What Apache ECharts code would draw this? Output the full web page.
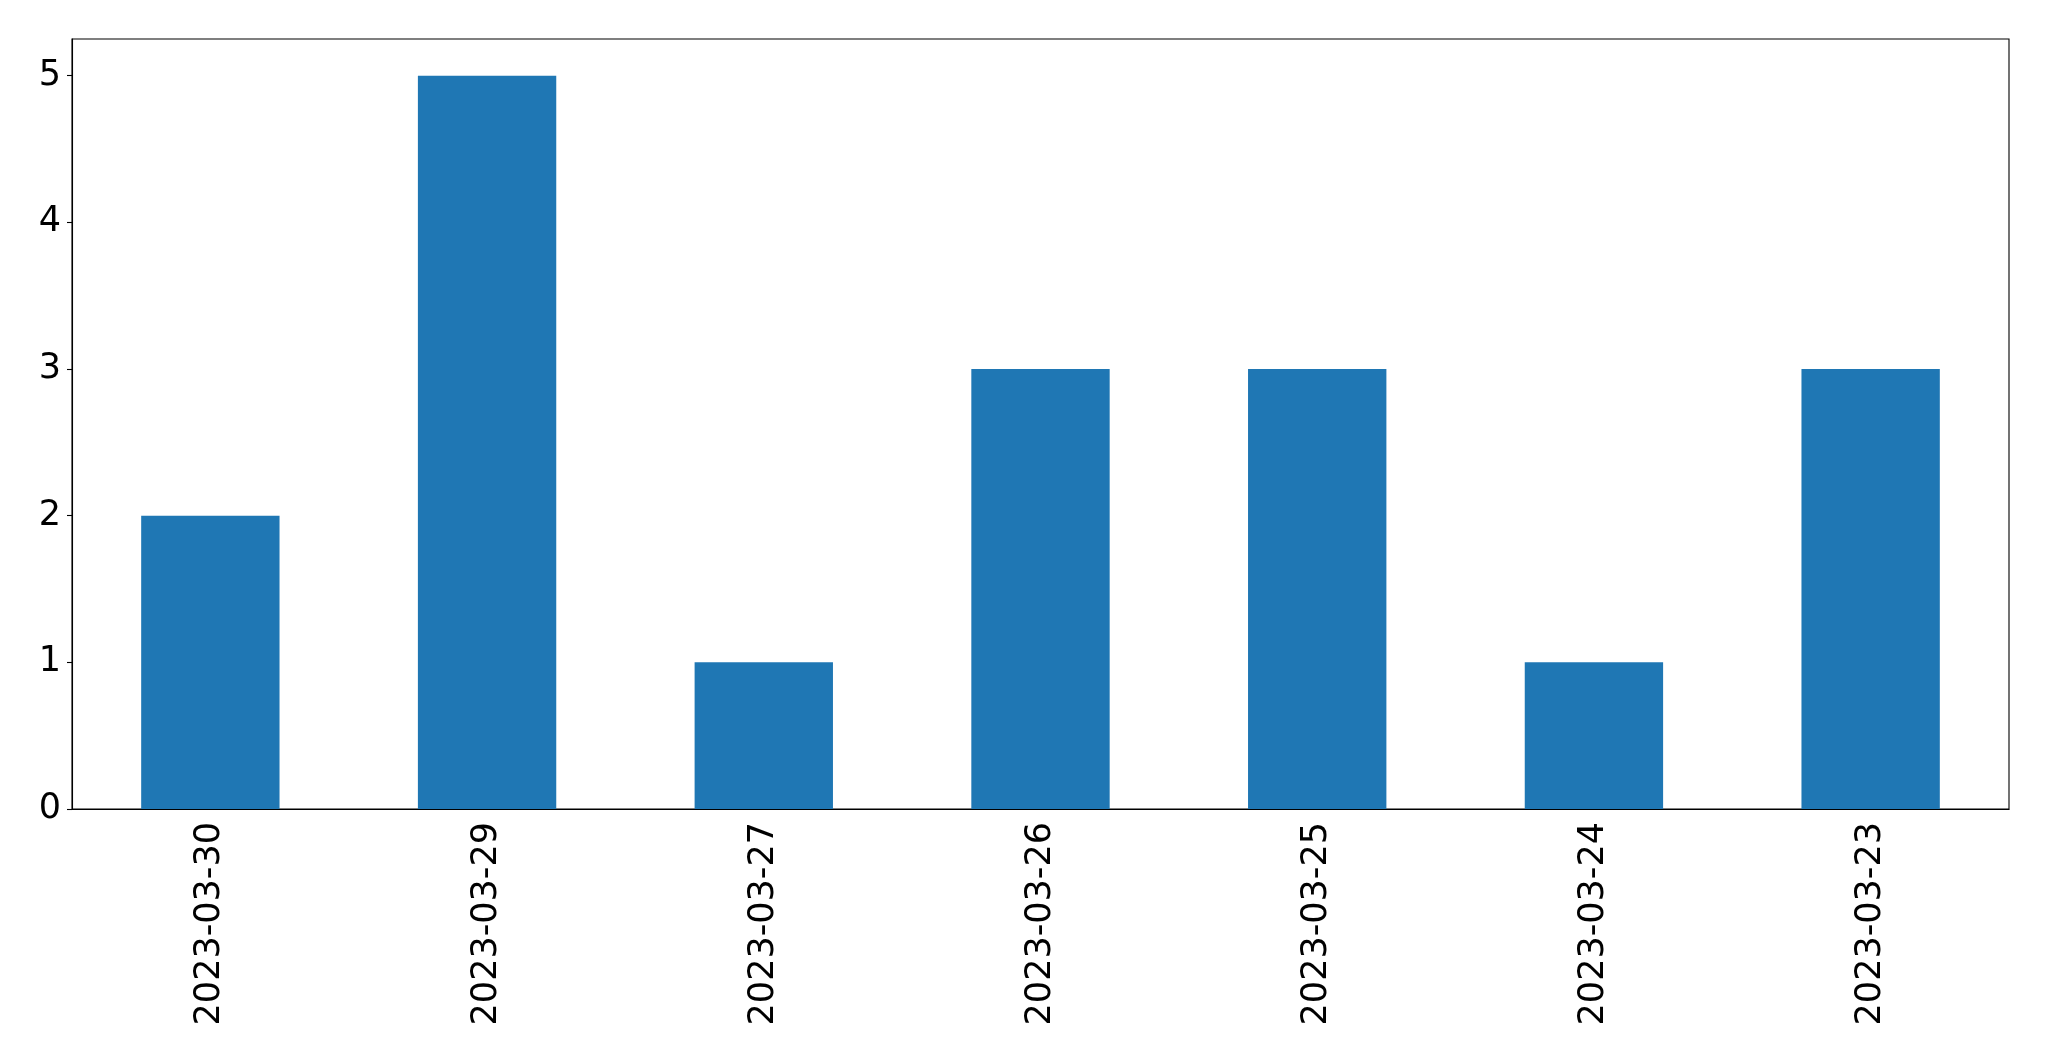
<!DOCTYPE html>
<html>
<head>
<meta charset="utf-8">
<script src="https://cdn.jsdelivr.net/npm/echarts@6/dist/echarts.min.js"></script>
<style>html,body{margin:0;padding:0;background:#fff;}#c{width:2049px;height:1061px;}</style>
</head>
<body>
<div id="c"></div>
<script>
const categories = ['2023-03-30','2023-03-29','2023-03-27','2023-03-26','2023-03-25','2023-03-24','2023-03-23'];
const values = [2, 5, 1, 3, 3, 1, 3];
const yTicks = [0, 1, 2, 3, 4, 5];

const chart = echarts.init(document.getElementById('c'));
const font = 'DejaVu Sans';
chart.setOption({
  animation: false,
  backgroundColor: '#fff',
  grid: {left: 72, right: 40, top: 39, bottom: 252, show: true, borderColor: '#000', borderWidth: 1.1, containLabel: false},
  xAxis: {
    type: 'category', data: categories, boundaryGap: true,
    axisLine: {lineStyle: {color: '#000', width: 1.1}},
    axisTick: {alignWithLabel: true, length: 5, lineStyle: {color: '#000', width: 1.1}},
    axisLabel: {rotate: 90, fontFamily: font, fontSize: 35, color: '#000', margin: 13, interval: 0},
    splitLine: {show: false}
  },
  yAxis: {
    type: 'value', min: 0, max: 5.25,
    axisLine: {show: true, lineStyle: {color: '#000', width: 1.1}},
    axisTick: {show: true, length: 5, customValues: yTicks, lineStyle: {color: '#000', width: 1.1}},
    axisLabel: {fontFamily: font, fontSize: 35, color: '#000', margin: 11, customValues: yTicks, padding: [6, 0, 0, 0]},
    splitLine: {show: false}
  },
  series: [{
    type: 'bar', data: values, barWidth: '50%',
    itemStyle: {color: '#1f77b4'}
  }]
});
</script>
</body>
</html>
